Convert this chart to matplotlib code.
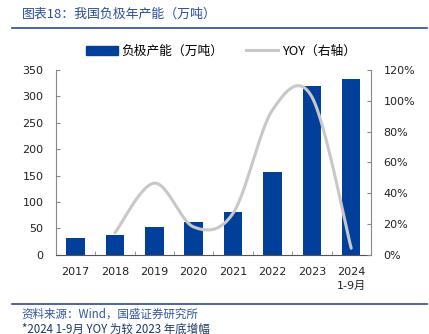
import matplotlib
matplotlib.use('Agg')
import matplotlib.pyplot as plt
from matplotlib.patches import Patch
from matplotlib.lines import Line2D
import numpy as np

plt.rcParams['font.family'] = ['DejaVu Sans', 'Noto Sans CJK SC']

years = ['2017', '2018', '2019', '2020', '2021', '2022', '2023', '2024\n1-9月']
capacity = [32, 36.7, 53, 62.5, 81, 157, 319.5, 333.5]
yoy = [None, 14.3, 46.5, 18.0, 27.0, 94.0, 102.6, 4.2]

bar_color = '#00409A'
line_color = '#C8C8C8'
cn = ['Noto Sans CJK SC', 'DejaVu Sans']


def smooth(xs, ys, n=30):
    # excel-like smoothed line (catmull-rom through the points)
    xs = np.asarray(xs, float)
    ys = np.asarray(ys, float)
    px = np.concatenate([[xs[0]], xs, [xs[-1]]])
    py = np.concatenate([[ys[0]], ys, [ys[-1]]])
    outx, outy = [], []
    for i in range(1, len(px) - 2):
        t = np.linspace(0, 1, n)
        h00 = 2*t**3 - 3*t**2 + 1
        h10 = t**3 - 2*t**2 + t
        h01 = -2*t**3 + 3*t**2
        h11 = t**3 - t**2
        mx0 = (px[i+1] - px[i-1]) / 2
        mx1 = (px[i+2] - px[i]) / 2
        my0 = (py[i+1] - py[i-1]) / 2
        my1 = (py[i+2] - py[i]) / 2
        outx.extend(h00*px[i] + h10*mx0 + h01*px[i+1] + h11*mx1)
        outy.extend(h00*py[i] + h10*my0 + h01*py[i+1] + h11*my1)
    return np.array(outx), np.array(outy)


fig = plt.figure(figsize=(4.29, 3.34), dpi=100)
ax = fig.add_axes([0.1305, 0.2374, 0.8645 - 0.1305, 0.7904 - 0.2374])

x = np.arange(len(years))
ax.bar(x, capacity, width=0.47, color=bar_color, zorder=2)
ax.set_xlim(-0.5, len(years) - 0.5)
ax.set_ylim(0, 350)
ax.set_yticks(range(0, 351, 50))
ax.set_xticks(x)
ax.set_xticklabels(years, linespacing=1.45)
ax.set_xticks(np.arange(-0.5, len(years), 1), minor=True)
ax.tick_params(axis='x', which='major', length=0, pad=9, labelsize=8, colors='#222222')
ax.tick_params(axis='x', which='minor', length=3, direction='in', color='#888888')
ax.tick_params(axis='y', length=3, direction='in', pad=9, labelsize=8, color='#888888', labelcolor='#222222')
for s in ['top', 'right']:
    ax.spines[s].set_visible(False)
ax.spines['left'].set_color('#888888')
ax.spines['bottom'].set_color('#555555')

ax2 = ax.twinx()
yx = [i for i, v in enumerate(yoy) if v is not None]
yv = [v for v in yoy if v is not None]
sx, sy = smooth(yx, yv)
ax2.plot(sx, sy, color=line_color, lw=2.2, solid_capstyle='round', zorder=3)
ax2.set_ylim(0, 120)
ax2.set_yticks(range(0, 121, 20))
ax2.set_yticklabels([f'{v}%' for v in range(0, 121, 20)])
ax2.tick_params(axis='y', length=3, direction='in', pad=9, labelsize=8, color='#888888', labelcolor='#222222')
for s in ['top', 'left', 'bottom']:
    ax2.spines[s].set_visible(False)
ax2.spines['right'].set_color('#888888')

handles = [Patch(color=bar_color, label='负极产能（万吨）'),
           Line2D([], [], color=line_color, lw=2.2, label='YOY（右轴）')]
leg = fig.legend(handles=handles, loc='center', bbox_to_anchor=(0.515, 0.847), ncol=2,
                 frameon=False, prop={'family': cn, 'size': 9.2},
                 handlelength=2.5, handleheight=0.7, handletextpad=0.3, columnspacing=1.8)

fig.text(0.051, 0.958, '图表18：我国负极年产能（万吨）', family=cn, fontsize=9.3,
         color='#2B4C9B', va='center', ha='left')
fig.add_artist(Line2D([0.028, 0.995], [0.915, 0.915], color='#2B4C9B', lw=1.2))
fig.add_artist(Line2D([0.028, 0.995], [0.09, 0.09], color='#2B4C9B', lw=1.2))
fig.text(0.051, 0.06, '资料来源：Wind，国盛证券研究所', family=cn, fontsize=8.3,
         color='#3355A0', va='center', ha='left')
fig.text(0.051, 0.015, '*2024 1-9月 YOY 为较 2023 年底增幅', family=cn, fontsize=8.3,
         color='#1F3864', va='center', ha='left')

fig.savefig('out.png', dpi=100)
